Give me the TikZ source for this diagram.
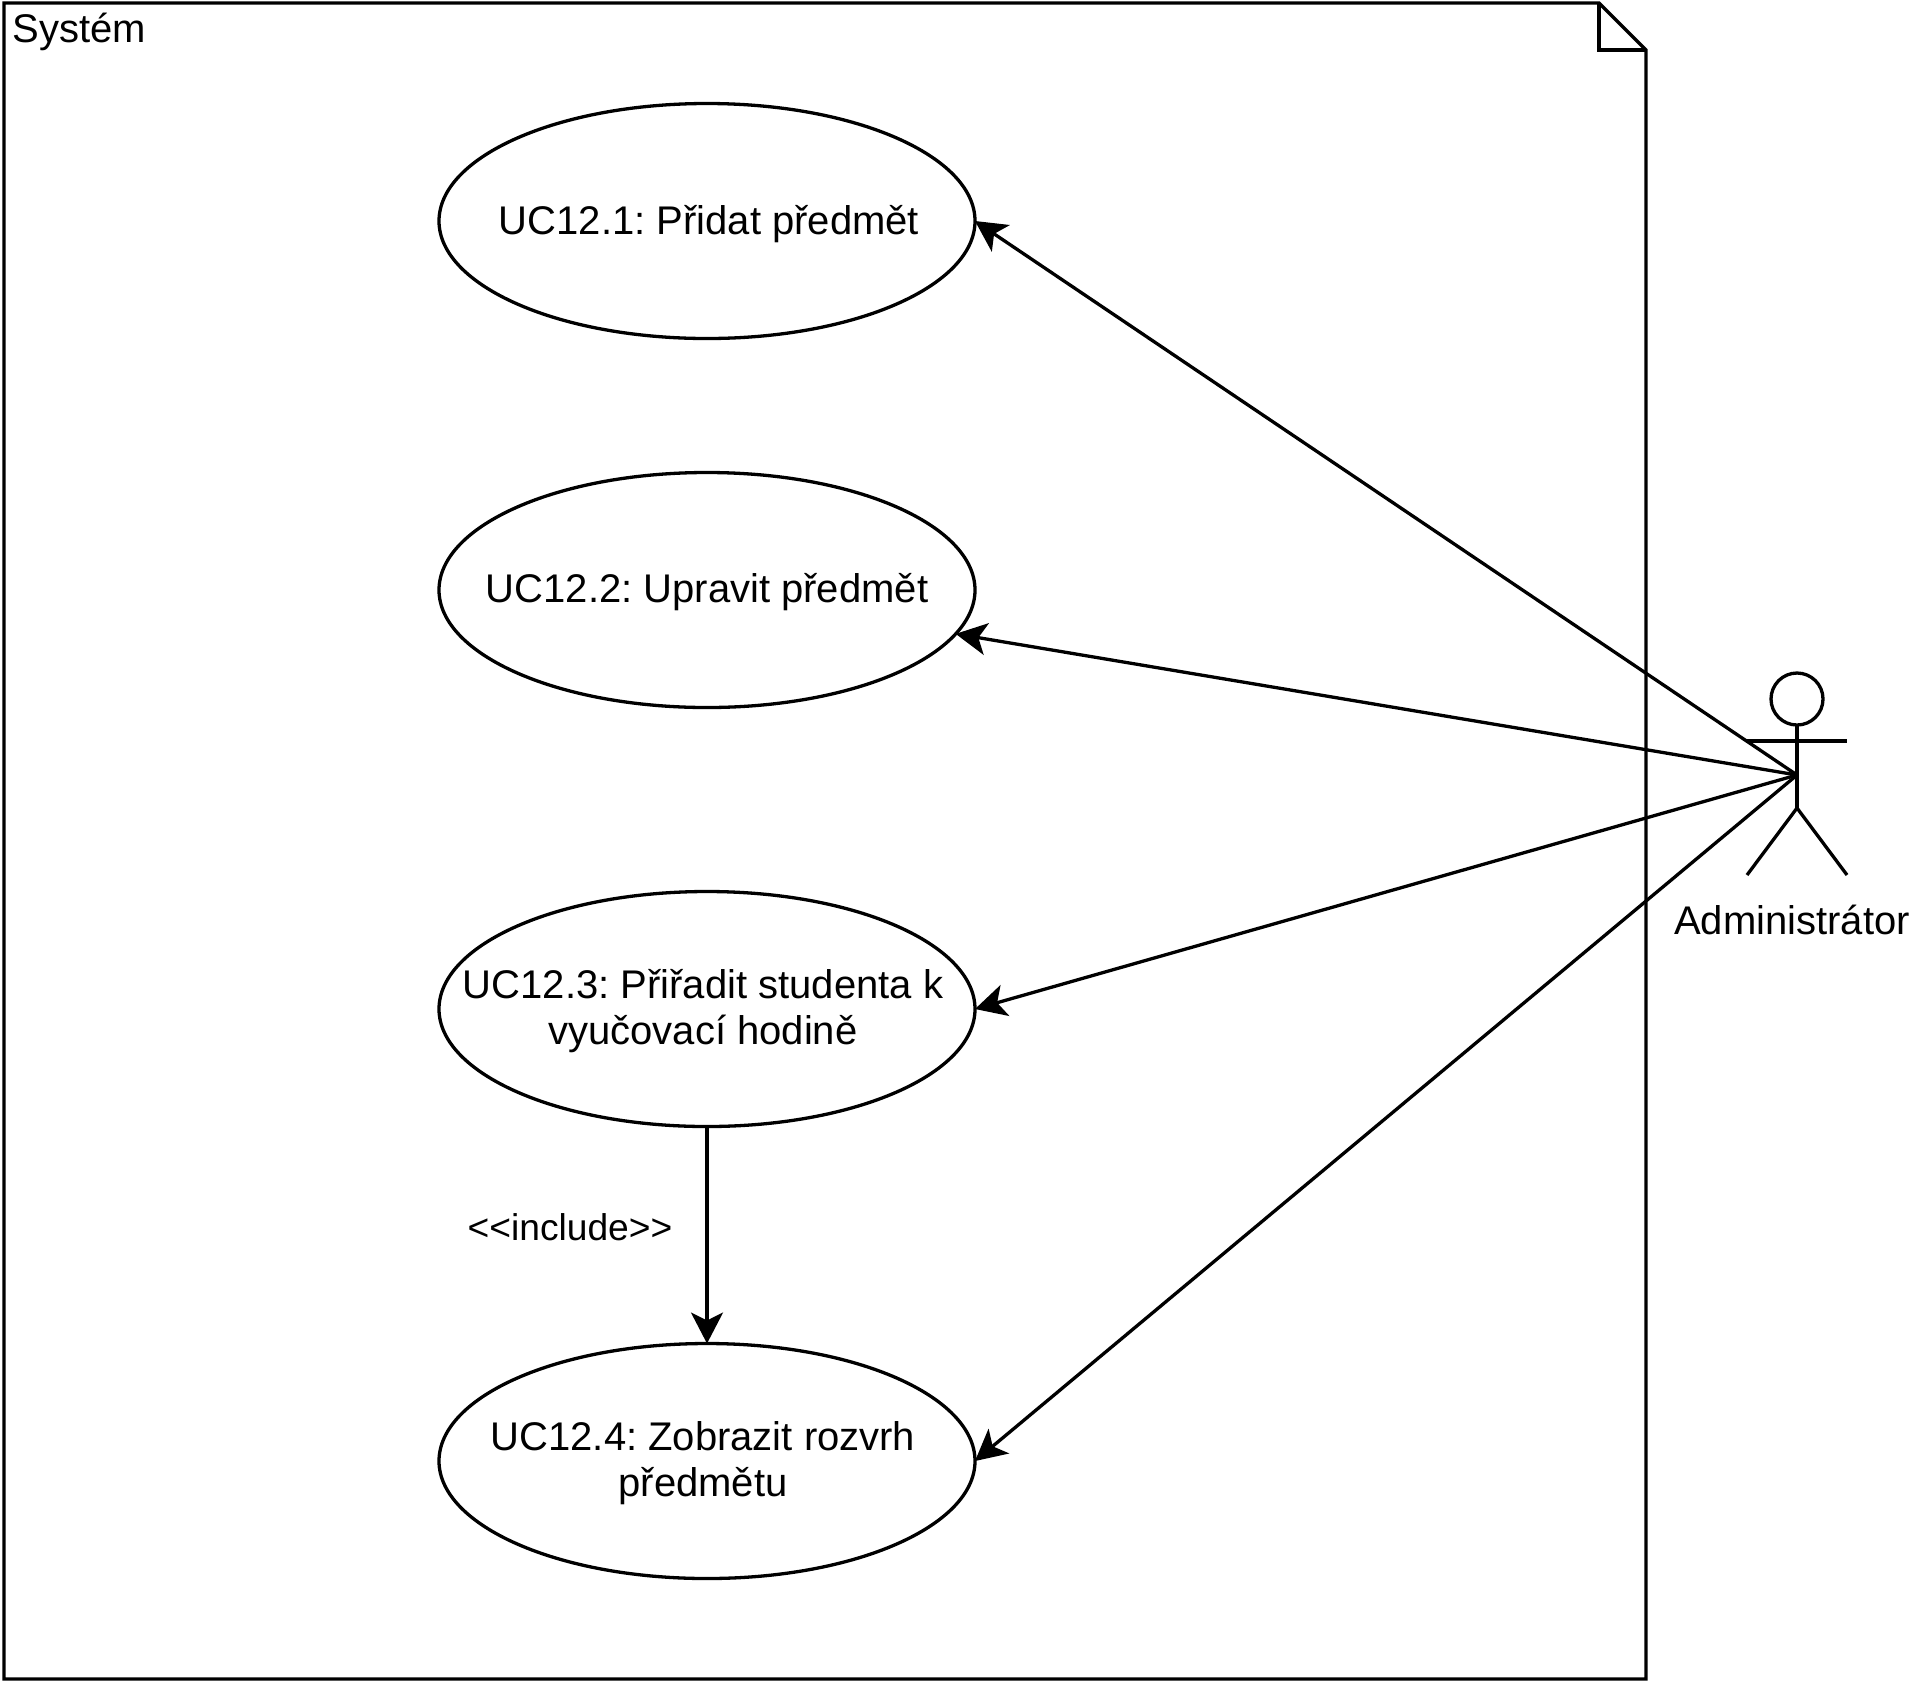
\documentclass[tikz,border=0pt]{standalone}
\usepackage{fontspec}
\setmainfont{Liberation Sans}
\usetikzlibrary{arrows.meta,shapes.geometric}
\frenchspacing
\tikzset{
  x=0.5pt,y=-0.5pt,
  stroke/.style={draw=black,line width=1.65pt},
  usecase/.style={stroke,ellipse,fill=white,minimum width=268pt,minimum height=117.5pt,inner sep=0pt,outer sep=0pt},
  lbl/.style={font=\fontsize{20pt}{23.25pt}\selectfont,text=black,align=center,inner sep=0pt},
  small/.style={lbl,font=\fontsize{18.6pt}{23pt}\selectfont},
  link/.style={stroke,-{Stealth[length=15.5pt,width=16pt,inset=4pt]}},
}
\begin{document}
\begin{tikzpicture}
\useasboundingbox (0,0) rectangle (1921,1683);
% frame
\draw[stroke,line join=miter] (4,3) -- (1599,3) -- (1646,50) -- (1646,1679) -- (4,1679) -- cycle;
\draw[stroke,line join=miter] (1599,3) -- (1599,50) -- (1646,50);
\node[lbl,anchor=west] (sys) at (12,32) {Systém};
% use cases
\node[usecase] (u1) at (707,221) {};
\node[usecase] (u2) at (707,590) {};
\node[usecase] (u3) at (707,1009) {};
\node[usecase] (u4) at (707,1461) {};
\node[lbl] (t1) at (709,224) {UC12.1: Přidat předmět};
\node[lbl] (t2) at (707,592) {UC12.2: Upravit předmět};
\node[lbl] (t3) at (703,1011) {UC12.3: Přiřadit studenta k\\vyučovací hodině};
\node[lbl] (t4) at (703,1463) {UC12.4: Zobrazit rozvrh\\předmětu};
\node[small] (inc) at (570,1227) {<{}<include>{}>};
% actor
\node[stroke,circle,minimum size=26pt,inner sep=0pt,outer sep=0pt] (head) at (1797,699) {};
\coordinate (neck) at (head.south);
\coordinate (hip) at (1797,808);
\coordinate (hub) at (1797,775);
\coordinate (armL) at (1747,741);
\coordinate (armR) at (1847,741);
\coordinate (legL) at (1747,875);
\coordinate (legR) at (1847,875);
\draw[stroke] (neck) -- (hip);
\draw[stroke] (armL) -- (armR);
\draw[stroke] (legL) -- (hip) -- (legR);
\node[lbl] (act) at (1792,920) {Administrátor};
% connectors
\draw[link] (hub) -- (u1.east);
\draw[link] (hub) -- (u2.-10);
\draw[link] (hub) -- (u3.east);
\draw[link] (hub) -- (u4.east);
\draw[link] (u3.south) -- (u4.north);
\end{tikzpicture}
\end{document}
